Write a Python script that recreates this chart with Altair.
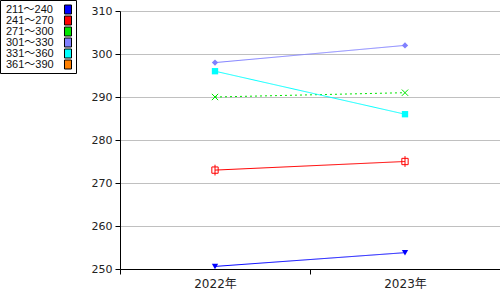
import altair as alt
import pandas as pd

series = ["211～240", "241～270", "271～300", "301～330", "331～360", "361～390"]
colors = ["#0000ff", "#ff0000", "#00e600", "#8080ff", "#00ffff", "#ff8000"]
years = ["2022年", "2023年"]
v2022 = [250.6, 273.0, 290.0, 298.0, 296.0, None]
v2023 = [253.8, 275.0, 291.0, 302.0, 286.0, None]

shapes = [
    "triangle-down",
    "M-1,-1H1V1H-1Z M0,-1.7V1.7",
    "M-1,-1L1,1M-1,1L1,-1",
    "diamond",
    "square",
    "circle",
]
sizes = [40, 40, 80, 60, 100, 40]
hollow = ["241～270", "271～300"]
dashes = [[1, 0], [1, 0], [2, 3], [1, 0], [1, 0], [1, 0]]

rows = []
for s, a, b in zip(series, v2022, v2023):
    for y, v in zip(years, [a, b]):
        if v is not None:
            rows.append({"series": s, "year": y, "value": v})
df = pd.DataFrame(rows)
legend_df = pd.DataFrame({"series": series})

x = alt.X("year:N", sort=years,
          scale=alt.Scale(type="band", domain=years, paddingInner=0, paddingOuter=0),
          axis=alt.Axis(title=None, labelAngle=0, tickBand="extent", tickSize=5,
                        tickColor="black", domainColor="black", grid=False,
                        labelFont="DejaVu Sans, Noto Sans CJK JP", labelFontSize=12,
                        labelColor="#222", labelPadding=4))
y = alt.Y("value:Q",
          scale=alt.Scale(domain=[250, 310], nice=False, zero=False),
          axis=alt.Axis(title=None, values=[250, 260, 270, 280, 290, 300, 310],
                        tickSize=5, tickColor="black", domainColor="black",
                        gridColor="#c0c0c0", labelFont="DejaVu Sans", labelFontSize=11,
                        labelColor="#222", labelPadding=3))

sdom = alt.Scale(domain=series, range=colors)
col = alt.Color("series:N", scale=sdom, legend=None)
shp = alt.Shape("series:N", scale=alt.Scale(domain=series, range=shapes), legend=None)
siz = alt.Size("series:N", scale=alt.Scale(domain=series, range=sizes), legend=None)

lines = alt.Chart(df).mark_line(strokeWidth=1).encode(
    x=x, y=y, color=col,
    strokeDash=alt.StrokeDash("series:N", scale=alt.Scale(domain=series, range=dashes), legend=None),
    detail="series:N",
)

solid_pts = alt.Chart(df).transform_filter(
    ~alt.FieldOneOfPredicate(field="series", oneOf=hollow)
).mark_point(filled=True, opacity=1).encode(x=x, y=y, color=col, shape=shp, size=siz)

open_pts = alt.Chart(df).transform_filter(
    alt.FieldOneOfPredicate(field="series", oneOf=hollow)
).mark_point(filled=False, opacity=1, strokeWidth=1).encode(x=x, y=y, color=col, shape=shp, size=siz)

main = alt.layer(lines, solid_pts, open_pts)

# legend (drawn from the series list)
ly = alt.Y("series:N", scale=alt.Scale(domain=series, range=[-1.5, 53.5], padding=0), axis=None)

box = alt.Chart(pd.DataFrame({"k": [0]})).mark_rect(
    fill="white", stroke="black", strokeWidth=1
).encode(x=alt.value(-119.5), x2=alt.value(-43.5), y=alt.value(-10.5), y2=alt.value(62.5))

leg_text = alt.Chart(legend_df).mark_text(
    align="left", baseline="middle", font="Liberation Sans, Noto Sans CJK JP",
    fontSize=11, color="#111"
).encode(x=alt.value(-114), y=ly, text="series:N")

leg_sq = alt.Chart(legend_df).mark_point(
    shape="M-0.78,-1H0.78V1H-0.78Z", size=81, filled=True, opacity=1,
    stroke="black", strokeWidth=1
).encode(x=alt.value(-52), y=ly, color=col)

leg = alt.layer(box, leg_text, leg_sq)

chart = alt.layer(main, leg).resolve_scale(y="independent").properties(
    width=380, height=258,
    autosize=alt.AutoSizeParams(type="none"),
    padding={"left": 120, "top": 11, "right": 0, "bottom": 31},
).configure_view(stroke=None).configure(background="white")

chart.save("out.html", embed_options={"renderer": "svg", "actions": False})
